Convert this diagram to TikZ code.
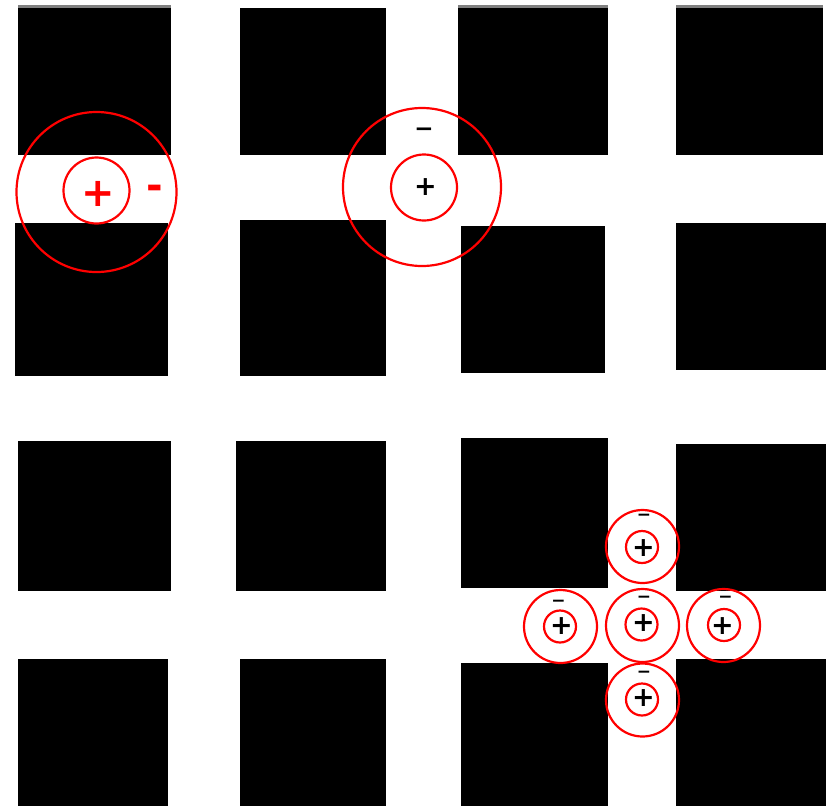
\documentclass[tikz,border=0pt]{standalone}
\usepackage{fontspec}
\newfontfamily\signfont{DejaVu Sans}
\usetikzlibrary{positioning}

\begin{document}
\begin{tikzpicture}[x=1pt, y=-1pt]
\tikzset{
  blk/.style={fill=black},
  strip/.style={fill=black!50},
  rfout/.style={circle, draw=red, line width=2.2pt, inner sep=0pt},
  bigsgn/.style={inner sep=0pt, font=\signfont\bfseries\fontsize{40}{40}\selectfont},
  sgn/.style={inner sep=0pt, font=\signfont\bfseries\fontsize{27}{27}\selectfont},
  midsgn/.style={inner sep=0pt, font=\signfont\bfseries\fontsize{23}{23}\selectfont},
  smallsgn/.style={inner sep=0pt, font=\signfont\bfseries\fontsize{17}{17}\selectfont}
}
\useasboundingbox (0,0) rectangle (835,807);
\fill[white] (0,0) rectangle (835,807);

% upper grid
\fill[strip] (18,5) rectangle (171,7.5);
\fill[strip] (458,5) rectangle (608,7.5);
\fill[strip] (676,5) rectangle (823,7.5);
\fill[blk] (18,7.5) rectangle (171,155);
\fill[blk] (15,223) rectangle (168,376);
\fill[blk] (240,8) rectangle (386,155);
\fill[blk] (240,220) rectangle (386,376);
\fill[blk] (458,7.5) rectangle (608,155);
\fill[blk] (461,226) rectangle (605,373);
\fill[blk] (676,7.5) rectangle (823,155);
\fill[blk] (676,223) rectangle (826,370);

% lower grid
\fill[blk] (18,441) rectangle (171,591);
\fill[blk] (18,659) rectangle (168,806);
\fill[blk] (236,441) rectangle (386,591);
\fill[blk] (240,659) rectangle (386,806);
\fill[blk] (461,438) rectangle (608,588);
\fill[blk] (461,663) rectangle (608,806);
\fill[blk] (676,444) rectangle (826,591);
\fill[blk] (676,659) rectangle (826,806);

% receptive field on the bar
\node (rfAout) [rfout, minimum size=160pt] at (96.5,192) {};
\node (rfAin) [rfout, minimum size=66pt] at (96.5,190.5) {};
\node (rfAp) [bigsgn, text=red] at (98,194) {+};
\node (rfAm) [bigsgn, text=red] at (154.5,192.5) {-};

% receptive field on the crossing
\node (rfBout) [rfout, minimum size=158pt] at (422,187) {};
\node (rfBin) [rfout, minimum size=66pt] at (424,187.5) {};
\node (rfBp) [sgn] at (425.5,187.5) {+};
\node (rfBm) [midsgn] at (424,132) {−};

% small fields round the crossing
\node (rfCout) [rfout, minimum size=73pt] at (642.5,625.5) {};
\node (rfCin) [rfout, minimum size=32pt] at (641.5,624.5) {};
\node (rfCp) [sgn] at (643.5,623.5) {+};
\node (rfCm) [smallsgn] at (644,599.5) {−};

\node (rfNout) [rfout, minimum size=73pt] at (642.5,546.5) {};
\node (rfNin) [rfout, minimum size=32pt] at (642,547) {};
\node (rfNp) [sgn] at (643.5,548) {+};
\node (rfNm) [smallsgn] at (644,517.5) {−};

\node (rfWout) [rfout, minimum size=73pt] at (560.5,626.5) {};
\node (rfWin) [rfout, minimum size=32pt] at (560,626.5) {};
\node (rfWp) [sgn] at (561.5,626.5) {+};
\node (rfWm) [smallsgn] at (558.5,603) {−};

\node (rfEout) [rfout, minimum size=73pt] at (723.5,625.5) {};
\node (rfEin) [rfout, minimum size=32pt] at (724,625) {};
\node (rfEp) [sgn] at (722.5,626.5) {+};
\node (rfEm) [smallsgn] at (725.5,599.5) {−};

\node (rfSout) [rfout, minimum size=73pt] at (642.5,700) {};
\node (rfSin) [rfout, minimum size=32pt] at (642,699.5) {};
\node (rfSp) [sgn] at (643.5,698.5) {+};
\node (rfSm) [smallsgn] at (644,674.5) {−};

\end{tikzpicture}
\end{document}
